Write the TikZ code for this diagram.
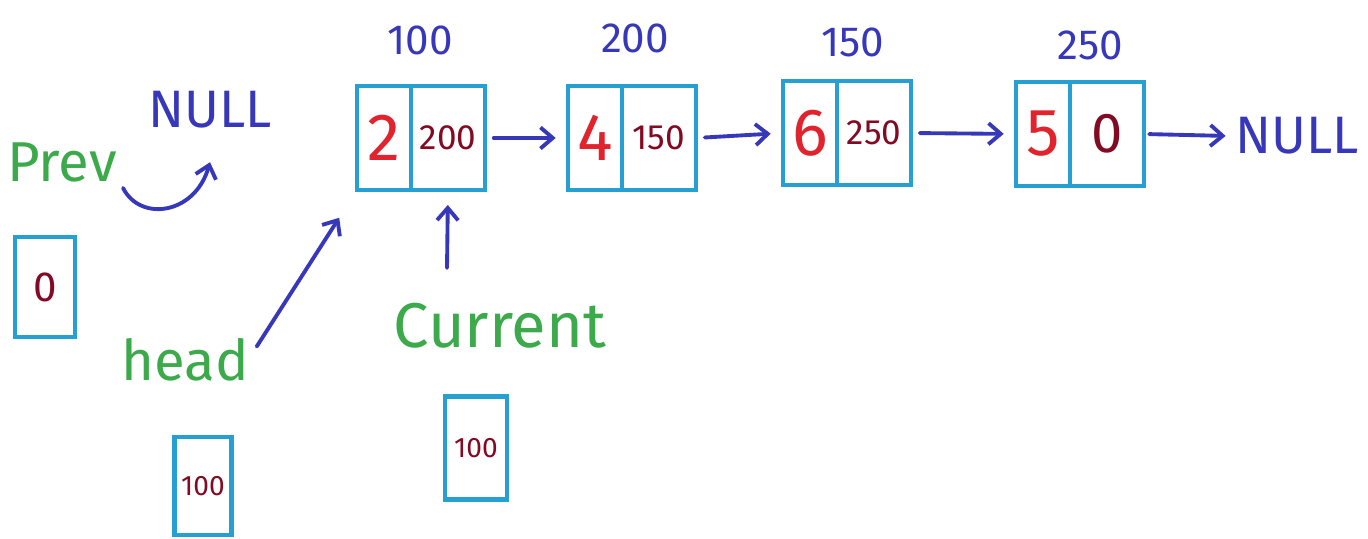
\documentclass[tikz,border=0pt]{standalone}
\usepackage{fontspec}
\setmainfont{Fira Sans}
\usetikzlibrary{positioning, arrows.meta}

\definecolor{boxcyan}{RGB}{38,160,210}
\definecolor{penblue}{RGB}{55,55,185}
\definecolor{pengreen}{RGB}{60,170,75}
\definecolor{penred}{RGB}{225,35,45}
\definecolor{pendark}{RGB}{130,10,35}

\begin{document}
\begin{tikzpicture}[x=0.02cm, y=-0.02cm,
      cell/.style={draw=boxcyan, line width=2.6pt, inner sep=0pt, outer sep=0pt,
        minimum height=2.08cm, anchor=north west},
      datacell/.style={cell, minimum width=1.08cm, text=penred, font=\fontsize{38}{38}\selectfont},
      nextcell/.style={cell, minimum width=1.48cm, text=pendark, font=\fontsize{20}{20}\selectfont},
      varbox/.style={draw=boxcyan, line width=2.6pt, inner sep=0pt, minimum width=1.2cm,
        minimum height=2cm, text=pendark, font=\fontsize{16}{16}\selectfont},
      addr/.style={text=penblue, font=\fontsize{24}{24}\selectfont},
      nul/.style={text=penblue, font=\fontsize{30}{30}\selectfont},
      lbl/.style={text=pengreen, font=\fontsize{32}{32}\selectfont},
      link/.style={draw=penblue, line width=2.2pt, line cap=round,
        -{Straight Barb[length=7pt, width=12pt, line width=2.2pt]}}]

    \useasboundingbox (0,0) rectangle (1368,538);

    % the list
    \node[datacell] (d1) at (357,86) {2};
    \node[nextcell, right=0pt of d1] (n1) {200};
    \node[datacell] (d2) at (568,86) {4};
    \node[nextcell, right=0pt of d2] (n2) {150};
    \node[datacell] (d3) at (783,81) {6};
    \node[nextcell, right=0pt of d3] (n3) {250};
    \node[datacell] (d4) at (1016,82) {5};
    \node[nextcell, right=0pt of d4, font=\fontsize{32}{32}\selectfont] (n4) {0};

    \node[addr] (a1) at (420,40) {100};
    \node[addr] (a2) at (635,38) {200};
    \node[addr] (a3) at (853,42) {150};
    \node[addr] (a4) at (1090,45) {250};

    \node[nul] (null2) at (1297,136) {NULL};

    \draw[link, shorten <=5pt, shorten >=7pt] (n1.east) -- (d2.west);
    \draw[link, shorten <=5pt, shorten >=7pt] (n2.east) -- (d3.west);
    \draw[link, shorten <=5pt, shorten >=7pt] (n3.east) -- (d4.west);
    \draw[link, shorten <=3pt, shorten >=2pt] (n4.east) -- (null2.west);

    % pointers
    \node[lbl] (prevlbl) at (62,162) {Prev};
    \node[nul] (null1) at (210,110) {NULL};
    \node[varbox] (prevbox) at (45,287) {\fontsize{24}{24}\selectfont 0};
    \draw[link] (prevlbl.south east) .. controls (140,222) and (195,215) .. ([yshift=-0.55cm]null1.south);

    \node[lbl] (headlbl) at (185,360) {head};
    \node[varbox, minimum width=1.14cm, minimum height=1.96cm] (headbox) at (203,486) {100};
    \draw[link, shorten <=2pt, shorten >=0.66cm] ([yshift=6pt]headlbl.east) -- (d1.south west);

    \node[lbl, font=\fontsize{36}{36}\selectfont] (curlbl) at (500,326) {Current};
    \node[varbox, minimum width=1.24cm, minimum height=2.06cm] (curbox) at (476,448) {100};
    \coordinate (curtail) at (447,268);
    \draw[link, shorten >=0.3cm] (curtail) -- (n1.south);
  \end{tikzpicture}
\end{document}
